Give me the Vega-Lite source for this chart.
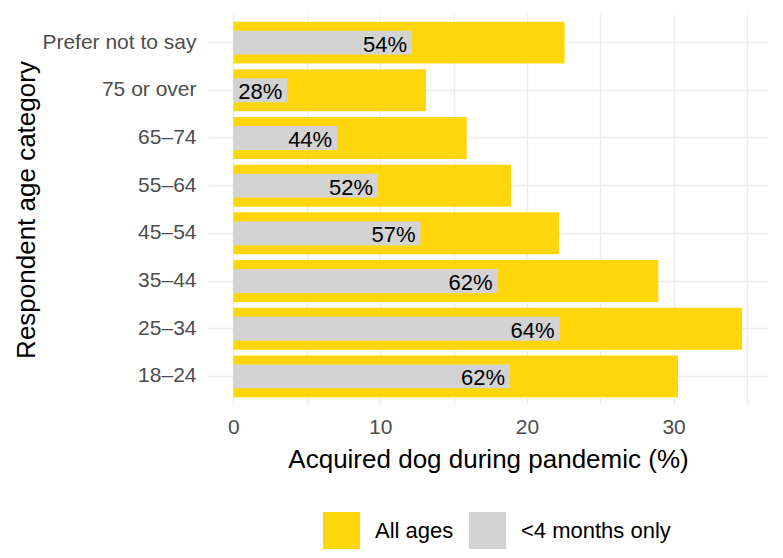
{
  "$schema": "https://vega.github.io/schema/vega-lite/v6.json",
  "width": 560,
  "height": 391,
  "autosize": "none",
  "padding": {"left": 208, "top": 14, "right": 15, "bottom": 153},
  "background": "white",
  "config": {
    "font": "Liberation Sans",
    "view": {"stroke": null},
    "axis": {"domain": false, "ticks": false, "gridColor": "#EBEBEB", "gridWidth": 1.3, "labelColor": "#4D4D4D", "titleColor": "#000000", "titleFontWeight": "normal"}
  },
  "data": {
    "values": [
      {"age": "Prefer not to say", "group": "All ages", "value": 22.57},
      {"age": "Prefer not to say", "group": "<4 months only", "value": 12.17, "label": "54%"},
      {"age": "75 or over", "group": "All ages", "value": 13.12},
      {"age": "75 or over", "group": "<4 months only", "value": 3.67, "label": "28%"},
      {"age": "65–74", "group": "All ages", "value": 15.9},
      {"age": "65–74", "group": "<4 months only", "value": 7.07, "label": "44%"},
      {"age": "55–64", "group": "All ages", "value": 18.93},
      {"age": "55–64", "group": "<4 months only", "value": 9.86, "label": "52%"},
      {"age": "45–54", "group": "All ages", "value": 22.2},
      {"age": "45–54", "group": "<4 months only", "value": 12.75, "label": "57%"},
      {"age": "35–44", "group": "All ages", "value": 28.96},
      {"age": "35–44", "group": "<4 months only", "value": 18.0, "label": "62%"},
      {"age": "25–34", "group": "All ages", "value": 34.67},
      {"age": "25–34", "group": "<4 months only", "value": 22.23, "label": "64%"},
      {"age": "18–24", "group": "All ages", "value": 30.3},
      {"age": "18–24", "group": "<4 months only", "value": 18.85, "label": "62%"}
    ]
  },
  "encoding": {
    "y": {
      "field": "age",
      "type": "nominal",
      "sort": ["Prefer not to say", "75 or over", "65–74", "55–64", "45–54", "35–44", "25–34", "18–24"],
      "scale": {"paddingInner": 0.12, "paddingOuter": 0.16},
      "title": "Respondent age category",
      "axis": {"grid": true, "labelFontSize": 21, "labelPadding": 12, "titleFontSize": 26, "titlePadding": 2, "bandPosition": 0.5}
    },
    "x": {
      "field": "value",
      "type": "quantitative",
      "scale": {"domain": [-1.735, 36.435], "nice": false, "zero": false},
      "title": "Acquired dog during pandemic (%)",
      "axis": {
        "values": [0, 5, 10, 15, 20, 25, 30, 35],
        "labelExpr": "datum.value % 10 == 0 ? datum.label : ''",
        "labelFontSize": 21,
        "labelPadding": 11,
        "titleFontSize": 26,
        "titlePadding": 9
      }
    }
  },
  "layer": [
    {
      "transform": [{"filter": "datum.group == 'All ages'"}],
      "mark": {"type": "bar"},
      "encoding": {
        "color": {
          "field": "group",
          "type": "nominal",
          "scale": {"domain": ["All ages", "<4 months only"], "range": ["#FFD60A", "#D3D3D3"]},
          "legend": {
            "title": null,
            "orient": "none",
            "legendX": 115,
            "legendY": 498,
            "direction": "horizontal",
            "symbolType": "square",
            "symbolSize": 1369,
            "symbolStrokeWidth": 0,
            "symbolOpacity": 1,
            "labelFontSize": 22,
            "labelColor": "#000000",
            "labelOffset": 15,
            "columnPadding": 15,
            "padding": 0
          }
        }
      }
    },
    {
      "transform": [{"filter": "datum.group == '<4 months only'"}],
      "mark": {"type": "bar", "height": {"band": 0.57}},
      "encoding": {
        "color": {"field": "group", "type": "nominal"}
      }
    },
    {
      "transform": [{"filter": "datum.group == '<4 months only'"}],
      "mark": {"type": "text", "align": "right", "baseline": "middle", "fontSize": 22, "dx": -5, "dy": 2, "color": "#000000"},
      "encoding": {
        "text": {"field": "label"}
      }
    }
  ]
}
